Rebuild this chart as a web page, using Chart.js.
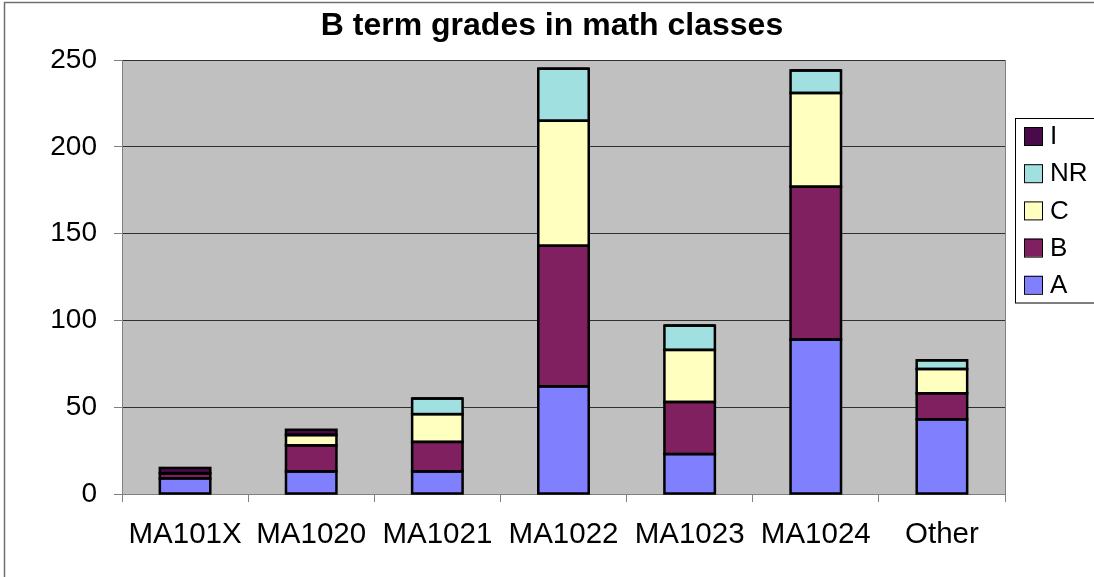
<!DOCTYPE html>
<html>
<head>
<meta charset="utf-8">
<title>B term grades in math classes</title>
<script src="https://cdn.jsdelivr.net/npm/chart.js@4/dist/chart.umd.min.js"></script>
<style>
    body { margin: 0; background: #fff; }
    #wrap { position: relative; width: 1094px; height: 577px; }
</style>
</head>
<body>
<div id="wrap"><canvas id="gradesChart"></canvas></div>
<script>
// data
const chartTitle = 'B term grades in math classes';
const categories = ['MA101X', 'MA1020', 'MA1021', 'MA1022', 'MA1023', 'MA1024', 'Other'];
const gradeA  = [9, 13, 13, 62, 23, 89, 43];
const gradeB  = [3, 15, 17, 81, 30, 88, 15];
const gradeC  = [0, 6, 16, 72, 30, 54, 14];
const gradeNR = [0, 0, 9, 30, 14, 13, 5];
const gradeI  = [3, 3, 0, 0, 0, 0, 0];
const yTicks = [0, 50, 100, 150, 200, 250];

const FONT = '"Liberation Sans", Arial, sans-serif';

function series(label, data, color) {
    return {
        label: label,
        data: data,
        backgroundColor: color,
        borderWidth: 0,
        categoryPercentage: 1.0,
        barPercentage: 0.4
    };
}

// gray plot area, outer frame, excel style outlines, title and boxed legend
const excelLook = {
    id: 'excelLook',
    beforeDraw(chart) {
        const ctx = chart.ctx;
        const a = chart.chartArea;
        ctx.save();
        ctx.fillStyle = '#fff';
        ctx.fillRect(0, 0, chart.width, chart.height);
        ctx.strokeStyle = '#707070';
        ctx.lineWidth = 1.5;
        ctx.strokeRect(4.5, 2.5, 1200, 700);
        ctx.fillStyle = '#c0c0c0';
        ctx.fillRect(a.left, a.top, a.right - a.left, a.bottom - a.top);
        ctx.restore();
    },
    afterDatasetsDraw(chart) {
        const ctx = chart.ctx;
        const a = chart.chartArea;
        ctx.save();
        ctx.strokeStyle = '#808080';
        ctx.lineWidth = 1;
        ctx.beginPath();
        ctx.moveTo(a.right + 0.5, a.top);
        ctx.lineTo(a.right + 0.5, a.bottom);
        ctx.stroke();

        // outline each segment centred on its edges, like excel does
        ctx.strokeStyle = '#000';
        ctx.lineWidth = 2.5;
        chart.data.datasets.forEach((ds, i) => {
            chart.getDatasetMeta(i).data.forEach(bar => {
                const p = bar.getProps(['x', 'y', 'base', 'width'], true);
                const top = Math.min(p.y, p.base);
                const h = Math.abs(p.base - p.y);
                ctx.strokeRect(p.x - p.width / 2, top, p.width, h);
            });
        });
        ctx.restore();
    },
    afterDraw(chart) {
        const ctx = chart.ctx;
        ctx.save();
        ctx.fillStyle = '#000';
        ctx.font = 'bold 32px ' + FONT;
        ctx.textAlign = 'center';
        ctx.textBaseline = 'alphabetic';
        ctx.fillText(chartTitle, 552, 35);

        // legend, last series on top
        ctx.strokeStyle = '#000';
        ctx.lineWidth = 1;
        ctx.strokeRect(1015.5, 118.5, 120, 184.5);
        ctx.font = '26px ' + FONT;
        ctx.textAlign = 'left';
        ctx.textBaseline = 'middle';
        const sets = chart.data.datasets.slice().reverse();
        sets.forEach((ds, k) => {
            const cy = 136 + k * 37.2;
            ctx.fillStyle = ds.backgroundColor;
            ctx.fillRect(1024, cy - 9, 18, 18);
            ctx.strokeRect(1024.5, cy - 8.5, 18, 18);
            ctx.fillStyle = '#000';
            ctx.fillText(ds.label, 1050, cy + 1);
        });
        ctx.restore();
    }
};

new Chart(document.getElementById('gradesChart'), {
    type: 'bar',
    data: {
        labels: categories,
        datasets: [
            series('A', gradeA, '#8080ff'),
            series('B', gradeB, '#802060'),
            series('C', gradeC, '#ffffc0'),
            series('NR', gradeNR, '#a0e0e0'),
            series('I', gradeI, '#4a0a4a')
        ]
    },
    options: {
        responsive: true,
        maintainAspectRatio: false,
        animation: false,
        devicePixelRatio: 1,
        layout: { padding: { top: 60, right: 89, bottom: 0, left: 0 } },
        plugins: {
            legend: { display: false },
            title: { display: false },
            tooltip: { enabled: false }
        },
        scales: {
            x: {
                stacked: true,
                afterFit: s => { s.height = 83; },
                grid: {
                    drawOnChartArea: false,
                    color: '#808080',
                    tickLength: 8,
                    offset: true
                },
                border: { display: true, color: '#808080', width: 1 },
                ticks: {
                    color: '#000',
                    padding: 15,
                    maxRotation: 0,
                    autoSkip: false,
                    font: { family: FONT, size: 29.5 }
                }
            },
            y: {
                stacked: true,
                min: 0,
                max: 250,
                afterFit: s => { s.width = 122; },
                afterBuildTicks: s => { s.ticks = yTicks.map(v => ({ value: v })); },
                grid: {
                    color: '#303030',
                    lineWidth: 1,
                    tickColor: '#808080',
                    tickLength: 8
                },
                border: { display: true, color: '#808080', width: 1 },
                ticks: {
                    color: '#000',
                    padding: 17,
                    font: { family: FONT, size: 28 }
                }
            }
        }
    },
    plugins: [excelLook]
});
</script>
</body>
</html>
